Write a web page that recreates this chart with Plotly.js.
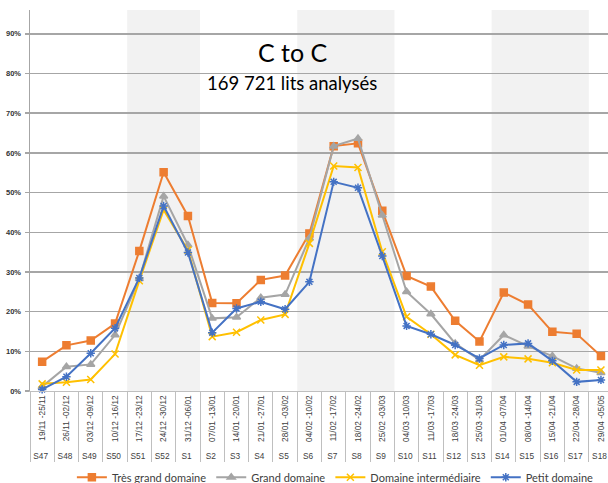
<!DOCTYPE html>
<html>
<head>
<meta charset="utf-8">
<script src="https://cdn.plot.ly/plotly-3.0.1.min.js"></script>
<style>
  html, body { margin: 0; padding: 0; background: #fff; }
  #chart { width: 608px; height: 483px; }
</style>
</head>
<body>
<div id="chart"></div>
<script>
// Data
const weeks = ['S47', 'S48', 'S49', 'S50', 'S51', 'S52', 'S1', 'S2', 'S3', 'S4', 'S5', 'S6',
    'S7', 'S8', 'S9', 'S10', 'S11', 'S12', 'S13', 'S14', 'S15', 'S16', 'S17', 'S18'];
const dates = ['19/11 -25/11', '26/11 -02/12', '03/12 -09/12', '10/12 -16/12', '17/12 -23/12',
    '24/12 -30/12', '31/12 -06/01', '07/01 -13/01', '14/01 -20/01', '21/01 -27/01',
    '28/01 -03/02', '04/02 -10/02', '11/02 -17/02', '18/02 -24/02', '25/02 -03/03',
    '04/03 -10/03', '11/03 -17/03', '18/03 -24/03', '25/03 -31/03', '01/04 -07/04',
    '08/04 -14/04', '15/04 -21/04', '22/04 -28/04', '29/04 -05/05'];

const tresGrand = [7.4, 11.5, 12.7, 17.0, 35.3, 55.1, 44.1, 22.2, 22.1, 28.0, 29.1, 39.7,
    61.7, 62.4, 45.4, 29.0, 26.3, 17.7, 12.5, 24.8, 21.8, 14.9, 14.4, 8.8];
const grand = [1.1, 6.1, 6.7, 14.1, 28.3, 49.1, 36.8, 18.3, 18.6, 23.5, 24.3, 38.5,
    61.7, 63.6, 44.3, 25.0, 19.4, 12.0, 7.8, 14.1, 11.3, 8.8, 5.7, 4.6];
const intermediaire = [1.8, 2.2, 2.9, 9.3, 27.8, 45.6, 35.5, 13.7, 14.8, 17.9, 19.3, 37.2,
    56.7, 56.3, 35.1, 18.7, 14.3, 9.1, 6.5, 8.6, 8.1, 7.1, 5.3, 5.3];
const petit = [0.4, 3.6, 9.5, 15.8, 28.5, 46.6, 34.9, 14.7, 20.8, 22.5, 20.6, 27.5,
    52.7, 51.2, 34.0, 16.4, 14.3, 11.6, 8.2, 11.6, 12.0, 7.6, 2.3, 2.8];

// shaded holiday periods, as [first week, last week]
const holidays = [['S51', 'S1'], ['S6', 'S9'], ['S14', 'S17']];

const SERIES = [
    { name: 'Très grand domaine', values: tresGrand, color: '#ED7D31', symbol: 'square', size: 7 },
    { name: 'Grand domaine', values: grand, color: '#A5A5A5', symbol: 'triangle-up', size: 7 },
    { name: 'Domaine intermédiaire', values: intermediaire, color: '#FFC000', symbol: 'x-thin-open', size: 7 },
    { name: 'Petit domaine', values: petit, color: '#4472C4', symbol: 'asterisk-open', size: 7 }
];

const xCats = [weeks, dates];

const traces = SERIES.map(s => ({
    x: xCats,
    y: s.values.map(v => v / 100),
    name: s.name,
    type: 'scatter',
    mode: 'lines+markers',
    line: { color: s.color, width: 2 },
    marker: { symbol: s.symbol, size: s.size, color: s.color, line: { color: s.color, width: 1.5 } },
    cliponaxis: false
}));

const shapes = holidays.map(([a, b]) => ({
    type: 'rect',
    layer: 'below',
    xref: 'x',
    yref: 'paper',
    x0: weeks.indexOf(a) - 0.5,
    x1: weeks.indexOf(b) + 0.5,
    y0: 0,
    y1: 1,
    fillcolor: '#F2F2F2',
    line: { width: 0 }
}));

const layout = {
    width: 608,
    height: 483,
    margin: { l: 30, r: 0, t: 10, b: 92 },
    paper_bgcolor: '#ffffff',
    plot_bgcolor: '#ffffff',
    font: { family: 'Liberation Sans, Arial, sans-serif', color: '#404040' },
    showlegend: true,
    legend: {
        orientation: 'h',
        xref: 'container',
        yref: 'container',
        x: 0.985,
        xanchor: 'right',
        y: 0.012,
        yanchor: 'middle',
        bgcolor: 'rgba(0,0,0,0)',
        font: { family: 'Lato, sans-serif', size: 11, color: '#404040' },
        itemwidth: 30,
        tracegroupgap: 0
    },
    xaxis: {
        type: 'multicategory',
        automargin: false,
        range: [-0.5, 23.29],
        tickangle: -90,
        tickfont: { size: 8.3, color: '#404040' },
        showgrid: false,
        showline: true,
        linecolor: '#BFBFBF',
        linewidth: 1,
        showdividers: true,
        dividercolor: '#BFBFBF',
        dividerwidth: 1,
        ticks: ''
    },
    yaxis: {
        automargin: false,
        range: [0, 0.96],
        dtick: 0.1,
        tick0: 0,
        tickformat: '.0%',
        tickfont: { size: 7.5, color: '#333333', weight: 'bold' },
        showgrid: true,
        gridcolor: '#A6A6A6',
        gridwidth: 1.5,
        showline: true,
        linecolor: '#A6A6A6',
        linewidth: 1.5,
        zeroline: false,
        ticks: 'outside',
        ticklen: 4,
        tickwidth: 1.5,
        tickcolor: '#A6A6A6',
        ticklabelstandoff: 2
    },
    shapes: shapes,
    annotations: [
        {
            text: 'C to C',
            xref: 'paper', yref: 'paper',
            x: 0.455, y: 0.89,
            xanchor: 'center', yanchor: 'middle',
            showarrow: false,
            font: { family: 'Lato, sans-serif', size: 25, color: '#000000' }
        },
        {
            text: '169 721 lits analysés',
            xref: 'paper', yref: 'paper',
            x: 0.453, y: 0.808,
            xanchor: 'center', yanchor: 'middle',
            showarrow: false,
            font: { family: 'Lato, sans-serif', size: 18.5, color: '#000000' }
        }
    ]
};

Plotly.newPlot('chart', traces, layout, { displayModeBar: false, staticPlot: true });
</script>
</body>
</html>
